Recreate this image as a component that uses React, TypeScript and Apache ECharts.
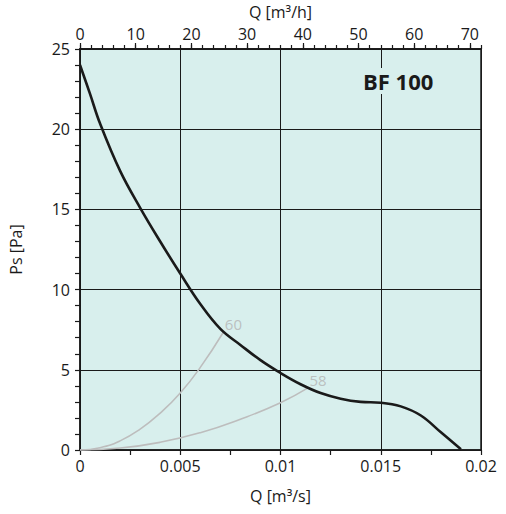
import React, { useEffect, useRef } from "react";
import * as echarts from "echarts";

// Fan curve BF 100: Q [m³/s] vs Ps [Pa]
const fanQ = [0, 0.0005, 0.001, 0.002, 0.003, 0.004, 0.005, 0.006, 0.007, 0.008, 0.009, 0.01, 0.011, 0.012, 0.013, 0.014, 0.015, 0.016, 0.017, 0.018, 0.019];
const fanPs = [24.0, 22.2, 20.35, 17.4, 15.1, 13.0, 11.0, 9.1, 7.55, 6.55, 5.6, 4.8, 4.1, 3.55, 3.2, 3.0, 2.95, 2.72, 2.15, 1.1, 0.05];

// System curve labelled "60"
const sys60Q = [0, 0.001, 0.002, 0.003, 0.004, 0.005, 0.006, 0.00715];
const sys60Ps = [0, 0.14, 0.57, 1.3, 2.3, 3.55, 5.15, 7.34];

// System curve labelled "58"
const sys58Q = [0, 0.002, 0.004, 0.006, 0.008, 0.01, 0.01137];
const sys58Ps = [0, 0.12, 0.48, 1.08, 1.92, 2.95, 3.87];

const curveLabels = ["60", "58"];

const FONT = "Open Sans";
const BG = "#d8efed";
const INK = "#1a1a1a";
const GREY = "#bdbdbd";

function zip(a: number[], b: number[]) {
  return a.map((v, i) => [v, b[i]]);
}

export default function App() {
  const ref = useRef<HTMLDivElement>(null);
  useEffect(() => {
    if (!ref.current) return;
    const chart = echarts.init(ref.current, null, { renderer: "svg" });
    const axisText = { color: INK, fontFamily: FONT, fontSize: 16 };
    chart.setOption({
      animation: false,
      title: {
        text: "BF 100",
        left: 359,
        top: 68,
        padding: [2, 4],
        backgroundColor: BG,
        textStyle: { fontFamily: FONT, fontWeight: "bold", fontSize: 22, color: INK },
      },
      grid: {
        left: 80,
        top: 49,
        width: 401,
        height: 401,
        containLabel: false,
        outerBoundsMode: "none",
        show: true,
        backgroundColor: BG,
        borderColor: INK,
        borderWidth: 1.5,
      },
      xAxis: [
        {
          type: "value",
          position: "bottom",
          min: 0,
          max: 0.02,
          interval: 0.005,
          name: "Q [m³/s]",
          nameLocation: "middle",
          nameGap: 38,
          nameMoveOverlap: false,
          nameTextStyle: axisText,
          axisLine: { show: true, lineStyle: { color: INK, width: 1.5 } },
          axisTick: { show: true, inside: false, length: 5, lineStyle: { color: INK, width: 1.2 } },
          minorTick: { show: true, splitNumber: 2, length: 5, lineStyle: { color: INK, width: 1.2 } },
          splitLine: { show: true, lineStyle: { color: INK, width: 1 } },
          axisLabel: { ...axisText, margin: 8 },
        },
        {
          type: "value",
          position: "top",
          min: 0,
          max: 72,
          interval: 2,
          axisLine: { show: true, lineStyle: { color: INK, width: 1.5 } },
          axisTick: { show: true, length: 4, lineStyle: { color: INK, width: 1.2 } },
          splitLine: { show: false },
          axisLabel: { show: false },
        },
        {
          type: "value",
          position: "top",
          min: 0,
          max: 72,
          interval: 10,
          name: "Q [m³/h]",
          nameLocation: "middle",
          nameGap: 29,
          nameMoveOverlap: false,
          nameTextStyle: axisText,
          axisLine: { show: true, lineStyle: { color: INK, width: 1.5 } },
          axisTick: { show: true, length: 6, lineStyle: { color: INK, width: 1.2 } },
          splitLine: { show: false },
          axisLabel: { ...axisText, margin: 7, showMaxLabel: false },
        },
      ],
      yAxis: {
        type: "value",
        min: 0,
        max: 25,
        interval: 5,
        name: "Ps [Pa]",
        nameLocation: "middle",
        nameGap: 56,
        nameMoveOverlap: false,
        nameRotate: 90,
        nameTextStyle: axisText,
        axisLine: { show: true, lineStyle: { color: INK, width: 1.5 } },
        axisTick: { show: true, length: 5, lineStyle: { color: INK, width: 1.2 } },
        minorTick: { show: true, splitNumber: 5, length: 5, lineStyle: { color: INK, width: 1.2 } },
        splitLine: { show: true, lineStyle: { color: INK, width: 1 } },
        axisLabel: { ...axisText, margin: 10 },
      },
      series: [
        {
          type: "line",
          data: zip(sys60Q, sys60Ps),
          smooth: true,
          showSymbol: false,
          lineStyle: { color: GREY, width: 1.6 },
          z: 2,
        },
        {
          type: "line",
          data: zip(sys58Q, sys58Ps),
          smooth: true,
          showSymbol: false,
          lineStyle: { color: GREY, width: 1.6 },
          z: 2,
        },
        {
          type: "line",
          data: zip(fanQ, fanPs),
          smooth: 0.4,
          showSymbol: false,
          lineStyle: { color: INK, width: 2.6 },
          z: 3,
        },
        {
          type: "scatter",
          symbolSize: 1,
          itemStyle: { color: "rgba(0,0,0,0)" },
          data: [
            [sys60Q[sys60Q.length - 1], sys60Ps[sys60Ps.length - 1]],
            [sys58Q[sys58Q.length - 1], sys58Ps[sys58Ps.length - 1]],
          ],
          label: {
            show: true,
            position: "right",
            distance: 1,
            offset: [0, -8],
            formatter: (p: any) => curveLabels[p.dataIndex],
            color: "#b3b3b3",
            fontFamily: FONT,
            fontSize: 15,
          },
          z: 4,
        },
      ],
    });
    return () => chart.dispose();
  }, []);
  return (
    <div
      ref={ref}
      style={{ position: "fixed", left: 0, top: 0, width: 506, height: 514, background: "#fff" }}
    />
  );
}
